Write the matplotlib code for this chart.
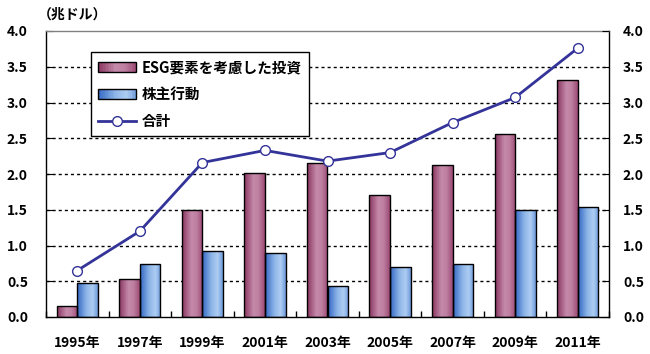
import matplotlib
matplotlib.use("Agg")
import matplotlib.pyplot as plt
import numpy as np
from matplotlib.colors import LinearSegmentedColormap
from matplotlib.patches import Patch, Rectangle
from matplotlib.lines import Line2D
from matplotlib.legend_handler import HandlerBase

plt.rcParams['font.family'] = ['Noto Sans CJK JP', 'DejaVu Sans']
plt.rcParams['font.weight'] = 'bold'

years = ["1995年", "1997年", "1999年", "2001年", "2003年", "2005年", "2007年", "2009年", "2011年"]
esg = [0.16, 0.53, 1.50, 2.01, 2.16, 1.71, 2.13, 2.56, 3.32]
share = [0.47, 0.74, 0.92, 0.89, 0.44, 0.70, 0.74, 1.50, 1.54]
total = [0.65, 1.20, 2.16, 2.33, 2.18, 2.30, 2.72, 3.07, 3.76]
yticks = [0.0, 0.5, 1.0, 1.5, 2.0, 2.5, 3.0, 3.5, 4.0]

esg_cmap = LinearSegmentedColormap.from_list(
    "esg", [(0, "#8A3560"), (0.45, "#C58AAA"), (0.7, "#BE7FA0"), (1, "#9C4A76")])
blue_cmap = LinearSegmentedColormap.from_list(
    "blu", [(0, "#3468C4"), (0.45, "#8EB6E8"), (0.75, "#AECDF2"), (1, "#6E9BDC")])

fig = plt.figure(figsize=(6.5, 3.54), dpi=100)
ax = fig.add_axes([46/650, 1-317/354, 563/650, 286/354])

x = np.arange(len(years))
w = 0.33
grad = np.linspace(0, 1, 64).reshape(1, -1)

def gbars(xs, vals, cmap):
    bars = ax.bar(xs, vals, w, facecolor='none', edgecolor='black', linewidth=1, zorder=3)
    for b in bars:
        bx, by = b.get_x(), b.get_y()
        bw, bh = b.get_width(), b.get_height()
        im = ax.imshow(grad, cmap=cmap, aspect='auto', extent=(bx, bx+bw, by, by+bh),
                       zorder=2, interpolation='bicubic')
        im.set_clip_path(b)
    return bars

gbars(x - w/2, esg, esg_cmap)
gbars(x + w/2, share, blue_cmap)

ax.plot(x, total, color='#333399', linewidth=2, marker='o', markersize=7,
        markerfacecolor='white', markeredgecolor='#333399', markeredgewidth=1, zorder=4)

ax.set_xlim(-0.5, len(years) - 0.5)
ax.set_ylim(0, 4.0)

for yv in yticks[1:-1]:
    ax.axhline(yv, color='black', linewidth=1, linestyle=(0, (2.2, 2.2)), zorder=1)

ax.set_yticks(yticks)
ax.set_yticklabels([f"{v:.1f}" for v in yticks], fontsize=10, fontweight='bold')
ax.tick_params(axis='y', direction='in', length=5, pad=13, colors='black')
ax.set_xticks(x)
ax.set_xticklabels(years, fontsize=10, fontweight='bold')
ax.tick_params(axis='x', length=0, pad=14)
ax.set_xticks(np.arange(-0.5, len(years)), minor=True)
ax.tick_params(axis='x', which='minor', direction='in', length=4, width=1)

for s in ['left', 'right', 'bottom']:
    ax.spines[s].set_color('black')
    ax.spines[s].set_linewidth(1)
ax.spines['top'].set_color('#808080')
ax.spines['top'].set_linewidth(1)

ax2 = ax.twinx()
ax2.set_ylim(0, 4.0)
ax2.set_yticks(yticks)
ax2.set_yticklabels([f"{v:.1f}" for v in yticks], fontsize=10, fontweight='bold')
ax2.tick_params(axis='y', direction='in', length=5, pad=10, colors='black')
for s in ax2.spines.values():
    s.set_visible(False)

fig.text(38/650, 1-15/354, "（兆ドル）", fontsize=10, fontweight='bold', va='center', ha='left')


class GradHandler(HandlerBase):
    def __init__(self, cmap):
        super().__init__()
        self.cmap = cmap

    def create_artists(self, legend, orig_handle, xdescent, ydescent, width, height,
                       fontsize, trans):
        n = 24
        arts = []
        for i in range(n):
            r = Rectangle((-xdescent + width * i / n, -ydescent), width / n + 0.3, height,
                          facecolor=self.cmap((i + 0.5) / n), edgecolor='none',
                          transform=trans)
            arts.append(r)
        arts.append(Rectangle((-xdescent, -ydescent), width, height, facecolor='none',
                              edgecolor='black', linewidth=1, transform=trans))
        return arts


h_esg = Patch(facecolor='#B8769A', edgecolor='black')
h_share = Patch(facecolor='#8EB6E8', edgecolor='black')
h_total = Line2D([], [], color='#333399', linewidth=2, marker='o', markersize=7,
                 markerfacecolor='white', markeredgecolor='#333399')
leg = ax.legend([h_esg, h_share, h_total], ["ESG要素を考慮した投資", "株主行動", "合計"],
                loc='upper left', bbox_to_anchor=(0.08, 0.927), borderaxespad=0,
                fancybox=False, framealpha=1, edgecolor='black',
                handlelength=2.6, handleheight=0.6, labelspacing=0.75,
                borderpad=0.5, handletextpad=0.4, prop={'weight': 'bold', 'size': 10.5},
                handler_map={h_esg: GradHandler(esg_cmap), h_share: GradHandler(blue_cmap)})
leg.get_frame().set_linewidth(1)
leg.set_zorder(6)

fig.savefig("out.png", dpi=100)
